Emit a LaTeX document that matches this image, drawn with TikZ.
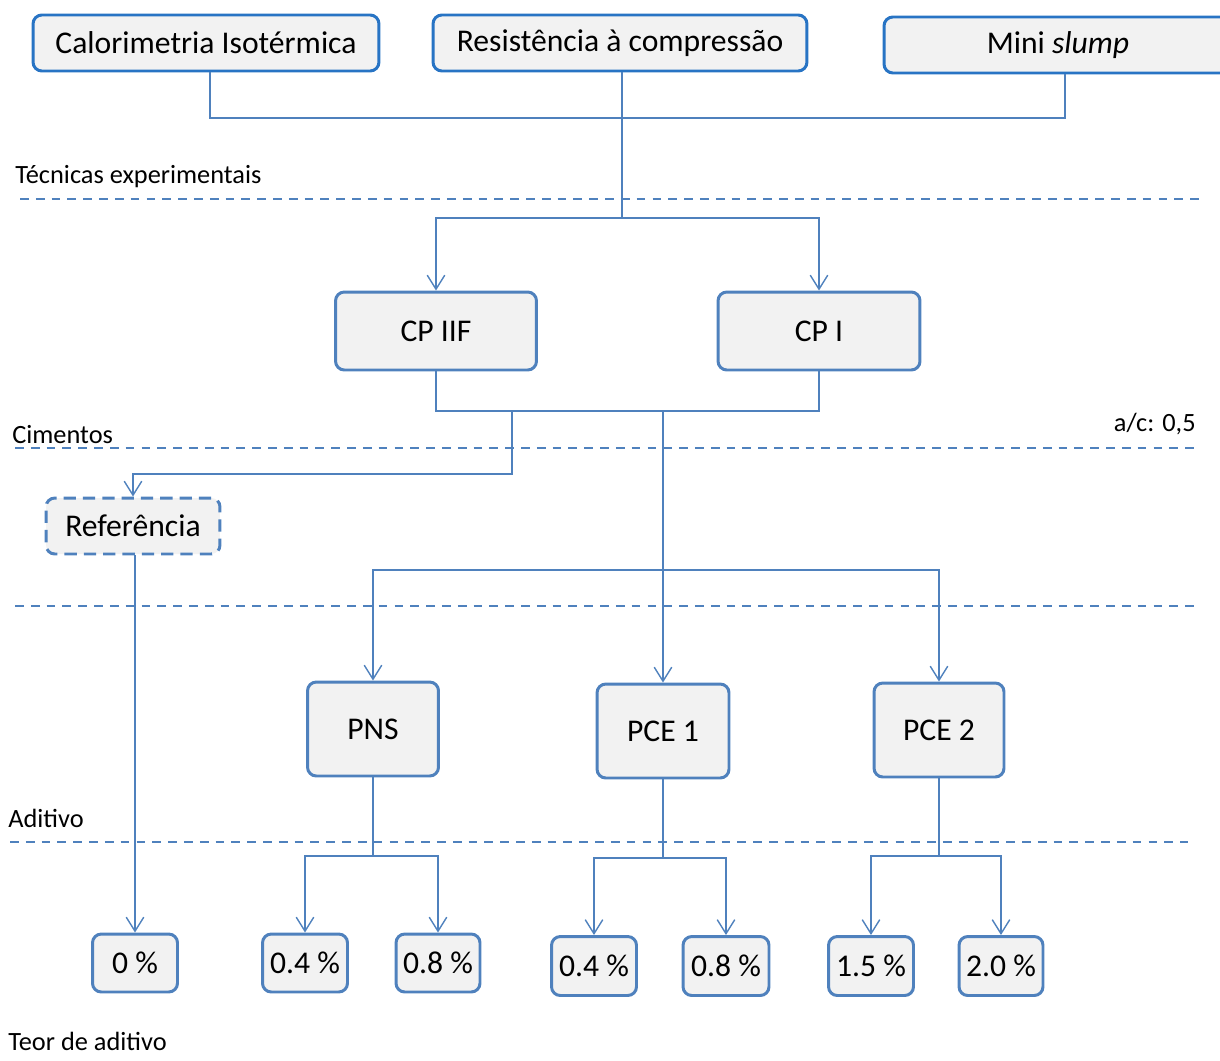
\documentclass[tikz,border=0pt]{standalone}
\usepackage{fontspec}
\setmainfont{Carlito}
\usetikzlibrary{arrows.meta}
\usetikzlibrary{positioning}

\definecolor{boxblue}{HTML}{4F81BD}
\definecolor{topblue}{HTML}{2874C4}
\definecolor{boxfill}{HTML}{F2F2F2}

\begin{document}
\begin{tikzpicture}[x=0.02cm,y=-0.02cm,
        box/.style={draw=boxblue,fill=boxfill,line width=1.7pt,rounded corners=5pt,
            inner sep=0pt,font=\fontsize{18}{20}\selectfont},
        topbox/.style={box,draw=topblue,minimum height=1.12cm},
        link/.style={draw=boxblue,line width=0.8pt},
        arr/.style={link,-{Straight Barb[length=8pt,width=10pt]}},
        level/.style={anchor=west,inner sep=0pt,font=\fontsize{15}{17}\selectfont},
        sep/.style={draw=boxblue,line width=0.8pt,dash pattern=on 5pt off 4pt}]
        \useasboundingbox (0,0) rectangle (1220,1061);

        % tecnicas
        \node[topbox,minimum width=6.92cm] (cal) at (206,43) {Calorimetria Isotérmica};
        \node[topbox,minimum width=7.48cm] (res) at (620,43) {Resistência à compressão};
        \node[topbox,minimum width=6.96cm] (mini) at (1058,45) {Mini \textit{slump}};

        % cimentos
        \node[box,minimum width=4.02cm,minimum height=1.56cm] (cpii) at (436,331) {CP IIF};
        \node[box,minimum width=4.04cm,minimum height=1.56cm] (cpi) at (819,331) {CP I};
        \node[box,dash pattern=on 7pt off 4pt,minimum width=3.48cm,minimum height=1.12cm] (ref) at (133,526) {Referência};

        % aditivos
        \node[box,minimum width=2.62cm,minimum height=1.88cm] (pns) at (373,729) {PNS};
        \node[box,minimum width=2.64cm,minimum height=1.88cm] (pce1) at (663,731) {PCE 1};
        \node[box,minimum width=2.60cm,minimum height=1.88cm] (pce2) at (939,730) {PCE 2};

        % teores
        \node[box,minimum width=1.70cm,minimum height=1.16cm] (t0) at (135,963) {0 \%};
        \node[box,minimum width=1.70cm,minimum height=1.16cm] (pns4) at (305,963) {0.4 \%};
        \node[box,minimum width=1.68cm,minimum height=1.16cm] (pns8) at (438,963) {0.8 \%};
        \node[box,minimum width=1.70cm,minimum height=1.18cm] (pcea4) at (594,966) {0.4 \%};
        \node[box,minimum width=1.72cm,minimum height=1.18cm] (pcea8) at (726,966) {0.8 \%};
        \node[box,minimum width=1.70cm,minimum height=1.18cm] (pceb15) at (871,966) {1.5 \%};
        \node[box,minimum width=1.68cm,minimum height=1.18cm] (pceb20) at (1001,966) {2.0 \%};

        % niveis
        \node[level] (lvtec) at (15,177) {Técnicas experimentais};
        \node[level] (lvcim) at (12,435) {Cimentos};
        \node[level,anchor=east] (lvac) at (1196,424) {a/c: 0,5};
        \node[level] (lvadi) at (8,818) {Aditivo};
        \node[level] (lvteor) at (8,1041) {Teor de aditivo};

        \draw[sep] (20,199) -- (1200,199);
        \draw[sep] (15,448) -- (1198,448);
        \draw[sep] (15,606) -- (1195,606);
        \draw[sep] (10,842) -- (1188,842);

        % ligacoes
        \coordinate (jcal) at (210,118);
        \coordinate (jmini) at (1065,118);
        \coordinate (jres) at (622,218);
        \draw[link] (cal.south -| jcal) -- (jcal) -- (jmini) -- (mini.south -| jmini);
        \draw[link] (res.south -| jres) -- (jres);
        \draw[arr] (jres) -| (cpii.north);
        \draw[arr] (jres) -| (cpi.north);

        \coordinate (jcp) at (512,411);
        \coordinate (jref) at (512,474);
        \coordinate (jadi) at (665,570);
        \draw[link] (cpii.south) -- (cpii.south |- jcp) -- (cpi.south |- jcp) -- (cpi.south);
        \draw[arr] (jcp) -- (jref) -| (ref.north);
        \draw[arr] (pce1.north |- jcp) -- (pce1.north);
        \draw[arr] (jadi) -| (pns.north);
        \draw[arr] (jadi) -| (pce2.north);
        \draw[arr] (ref.south -| t0.north) -- (t0.north);

        \coordinate (jpns) at (375,856);
        \coordinate (jpce1) at (664,858);
        \coordinate (jpce2) at (939,856);
        \draw[link] (pns.south) -- (pns.south |- jpns);
        \draw[arr] (pns.south |- jpns) -| (pns4.north);
        \draw[arr] (pns.south |- jpns) -| (pns8.north);
        \draw[link] (pce1.south) -- (pce1.south |- jpce1);
        \draw[arr] (pce1.south |- jpce1) -| (pcea4.north);
        \draw[arr] (pce1.south |- jpce1) -| (pcea8.north);
        \draw[link] (pce2.south) -- (pce2.south |- jpce2);
        \draw[arr] (pce2.south |- jpce2) -| (pceb15.north);
        \draw[arr] (pce2.south |- jpce2) -| (pceb20.north);
\end{tikzpicture}
\end{document}
